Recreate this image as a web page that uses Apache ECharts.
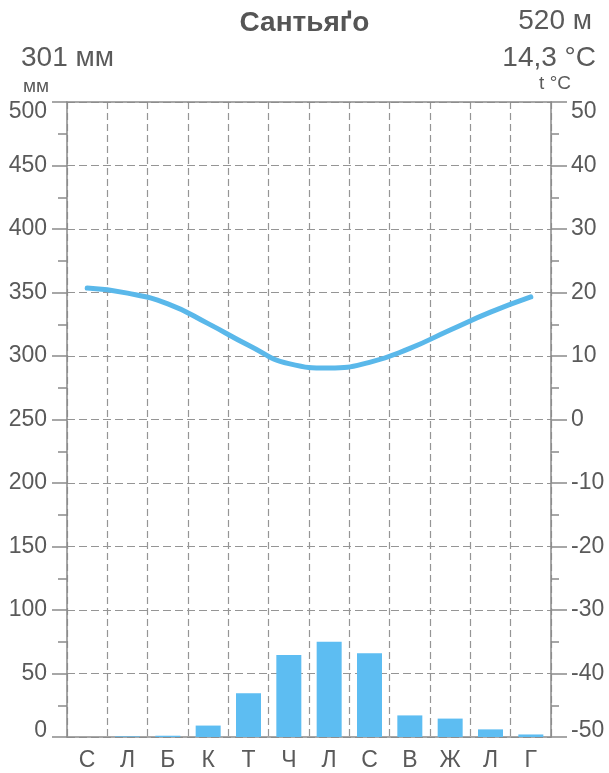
<!DOCTYPE html>
<html><head><meta charset="utf-8">
<script src="https://cdn.jsdelivr.net/npm/echarts@6/dist/echarts.min.js"></script>
<style>html,body{margin:0;padding:0;background:#fff}#c{width:609px;height:773px}</style>
</head><body><div id="c"></div>
<script>
const months = ['С','Л','Б','К','Т','Ч','Л','С','В','Ж','Л','Г'];
const precipitation = [0, 0.5, 1, 9, 34.5, 64.5, 75, 66, 17, 14.5, 6, 2];
const temperature = [20.7, 19.9, 18.2, 15.1, 11.7, 8.8, 8.1, 9.0, 11.2, 14.1, 16.9, 19.3];
const precipTicks = {min: 0, max: 500, interval: 50};
const tempTicks = {min: -50, max: 50, interval: 10};
const stationName = 'Сантьяґо';
const altitudeText = '520 м';
const totalPrecipText = '301 мм';
const meanTempText = '14,3 °C';

const FONT = '"Liberation Sans", Arial, sans-serif';
const TXT = '#5a5a5a';
const AX = '#8a8a8a';
const GRID = '#959595';

function edgeLabel(v, minV, maxV) {
  if (v === maxV) return '{top|' + v + '}';
  if (v === minV) return '{bot|' + v + '}';
  return String(v);
}
const labelRich = {
  top: {fontSize: 23, fontFamily: FONT, color: TXT, padding: [20, 0, 0, 0]},
  bot: {fontSize: 23, fontFamily: FONT, color: TXT, padding: [0, 0, 13, 0]}
};

const chart = echarts.init(document.getElementById('c'));
const catIdx = months.map((m, i) => i);
chart.setOption({
  animation: false,
  backgroundColor: '#fff',
  grid: {left: 67, right: 58, top: 102, bottom: 36, containLabel: false},
  graphic: [
    {type: 'text', left: 'center', top: 9, style: {text: stationName, font: 'bold 28px ' + FONT, fill: '#555'}},
    {type: 'text', right: 17, top: 7, style: {text: altitudeText, font: '28px ' + FONT, fill: TXT}},
    {type: 'text', left: 21, top: 44, style: {text: totalPrecipText, font: '28px ' + FONT, fill: TXT}},
    {type: 'text', right: 13, top: 44, style: {text: meanTempText, font: '28px ' + FONT, fill: TXT}},
    {type: 'text', left: 23, top: 77, style: {text: 'мм', font: '19px ' + FONT, fill: TXT}},
    {type: 'text', right: 38, top: 74, style: {text: 't °C', font: '19px ' + FONT, fill: TXT}}
  ],
  xAxis: [
    {
      type: 'category', data: catIdx, boundaryGap: true, position: 'bottom',
      axisLine: {show: true, onZero: false, lineStyle: {color: AX, width: 1.5}},
      axisTick: {show: false},
      axisLabel: {formatter: (v) => months[v], color: TXT, fontSize: 23, fontFamily: FONT, margin: 12, interval: 0},
      splitLine: {show: true, lineStyle: {color: GRID, type: [7, 4], width: 1.2}}
    },
    {
      type: 'category', data: catIdx, boundaryGap: true, position: 'top',
      axisLine: {show: true, onZero: false, lineStyle: {color: AX, width: 1.5}},
      axisTick: {show: false}, axisLabel: {show: false}, splitLine: {show: false}
    }
  ],
  yAxis: [
    {
      type: 'value', position: 'left', min: precipTicks.min, max: precipTicks.max, interval: precipTicks.interval,
      axisLine: {show: true, onZero: false, lineStyle: {color: AX, width: 1.5}},
      axisTick: {show: true, inside: false, length: 15, lineStyle: {color: AX, width: 1.5}},
      minorTick: {show: true, splitNumber: 2, length: 9, lineStyle: {color: AX, width: 1.5}},
      axisLabel: {color: TXT, fontSize: 23, fontFamily: FONT, margin: 20,
        formatter: (v) => edgeLabel(v, precipTicks.min, precipTicks.max), rich: labelRich},
      splitLine: {show: true, lineStyle: {color: GRID, type: [8, 4], width: 1.2}},
      minorSplitLine: {show: false}
    },
    {
      type: 'value', position: 'right', min: tempTicks.min, max: tempTicks.max, interval: tempTicks.interval,
      axisLine: {show: true, onZero: false, lineStyle: {color: AX, width: 1.5}},
      axisTick: {show: true, inside: false, length: 16, lineStyle: {color: AX, width: 1.5}},
      minorTick: {show: true, splitNumber: 2, length: 8, lineStyle: {color: AX, width: 1.5}},
      axisLabel: {color: TXT, fontSize: 23, fontFamily: FONT, margin: 20,
        formatter: (v) => edgeLabel(v, tempTicks.min, tempTicks.max), rich: labelRich},
      splitLine: {show: false}
    }
  ],
  series: [
    {
      type: 'bar', xAxisIndex: 0, yAxisIndex: 0, data: precipitation, barWidth: 25,
      itemStyle: {color: '#5dbdf2'}, z: 3
    },
    {
      type: 'line', xAxisIndex: 0, yAxisIndex: 1, data: temperature, smooth: 0.5,
      showSymbol: false, symbol: 'none',
      lineStyle: {color: '#5ab8ea', width: 5, cap: 'round'}, z: 4
    }
  ]
});
</script></body></html>
